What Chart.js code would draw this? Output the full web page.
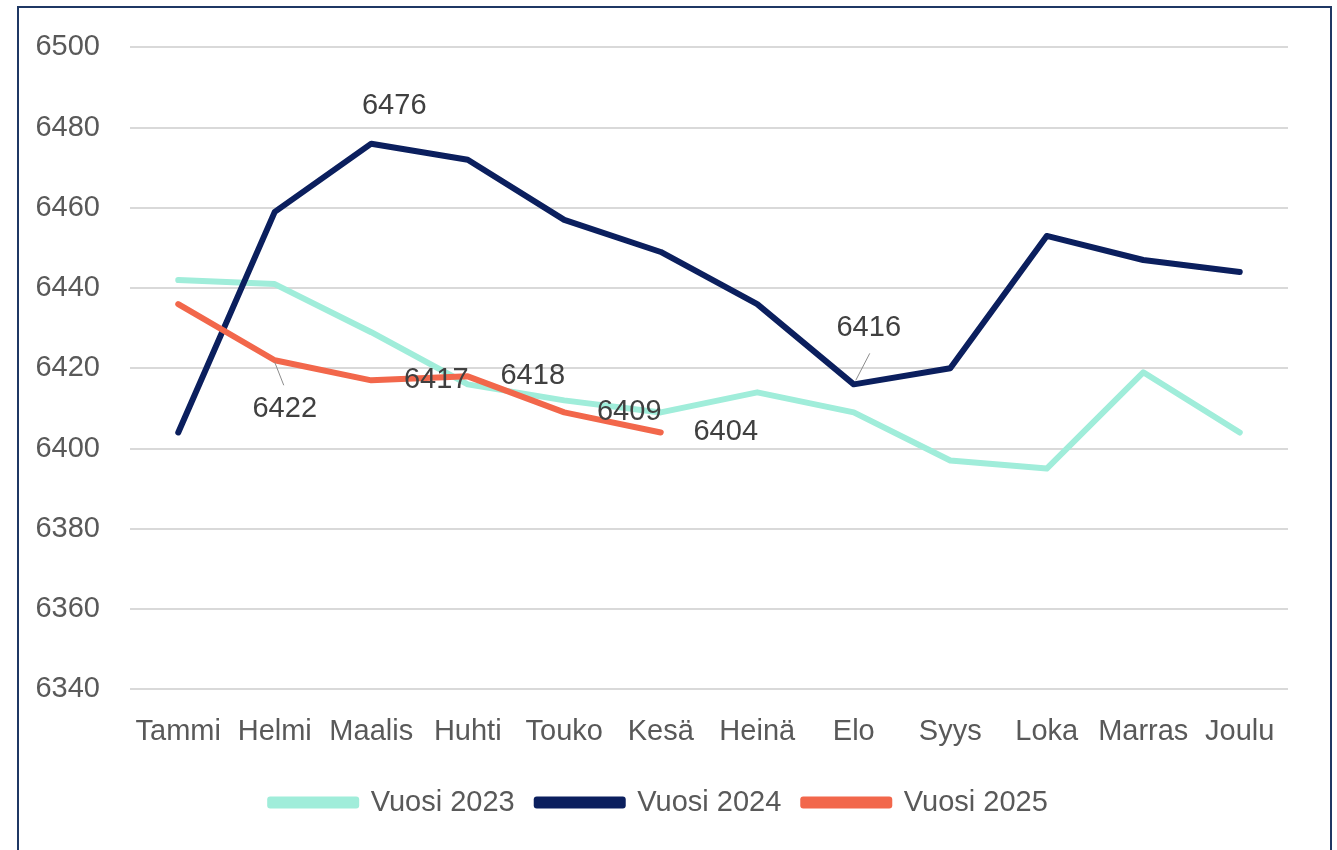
<!DOCTYPE html>
<html>
<head>
<meta charset="utf-8">
<script src="https://cdn.jsdelivr.net/npm/chart.js@4"></script>
<style>
  html, body { margin: 0; padding: 0; background: #fff; }
  #wrap { position: relative; width: 1337px; height: 850px; overflow: hidden; }
  #frame { position: absolute; left: 17px; top: 6px; width: 1311px; height: 900px; border: 2px solid #1F3864; }
  #chart { position: absolute; left: 0; top: 0; }
</style>
</head>
<body>
<div id="wrap">
  <div id="frame"></div>
  <canvas id="chart" width="1337" height="850"></canvas>
</div>
<script>
const months = ['Tammi', 'Helmi', 'Maalis', 'Huhti', 'Touko', 'Kesä', 'Heinä', 'Elo', 'Syys', 'Loka', 'Marras', 'Joulu'];
const vuosi2023 = [6442, 6441, 6429, 6416, 6412, 6409, 6414, 6409, 6397, 6395, 6419, 6404];
const vuosi2024 = [6404, 6459, 6476, 6472, 6457, 6449, 6436, 6416, 6420, 6453, 6447, 6444];
const vuosi2025 = [6436, 6422, 6417, 6418, 6409, 6404];
const seriesNames = ['Vuosi 2023', 'Vuosi 2024', 'Vuosi 2025'];
const seriesColors = ['#A0EDDA', '#0B1F5E', '#F2674B'];
const yTicks = [6340, 6360, 6380, 6400, 6420, 6440, 6460, 6480, 6500];

// which points carry a value label: [dataset, index, dx, dy, leader line or null]
const labelSpots = [
  [1, 2, 23, -38, null],
  [1, 7, 15, -56, [2, -4, 16, -31]],
  [2, 1, 10, 49, [0, 2, 9, 25]],
  [2, 2, 65, 0, null],
  [2, 3, 65, 0, null],
  [2, 4, 65, 0, null],
  [2, 5, 65, 0, null]
];

const FONT = "'Liberation Sans', Arial, sans-serif";

const valueLabels = {
  id: 'valueLabels',
  afterDatasetsDraw(chart) {
    const ctx = chart.ctx;
    ctx.save();
    ctx.font = '29px ' + FONT;
    ctx.fillStyle = '#404040';
    ctx.textAlign = 'center';
    ctx.textBaseline = 'middle';
    labelSpots.forEach(([ds, i, dx, dy, leader]) => {
      const pt = chart.getDatasetMeta(ds).data[i];
      const val = chart.data.datasets[ds].data[i];
      if (leader) {
        ctx.strokeStyle = '#8C8C8C';
        ctx.lineWidth = 1;
        ctx.beginPath();
        ctx.moveTo(pt.x + leader[0], pt.y + leader[1]);
        ctx.lineTo(pt.x + leader[2], pt.y + leader[3]);
        ctx.stroke();
      }
      ctx.fillText(String(val), pt.x + dx, pt.y + dy);
    });
    ctx.restore();
  }
};

const datasets = [vuosi2023, vuosi2024, vuosi2025].map((vals, k) => ({
  label: seriesNames[k],
  data: vals,
  borderColor: seriesColors[k],
  backgroundColor: seriesColors[k],
  borderWidth: 6,
  pointRadius: 0,
  tension: 0,
  borderJoinStyle: 'round',
  borderCapStyle: 'round',
  order: 2 - k
}));

new Chart(document.getElementById('chart'), {
  type: 'line',
  data: { labels: months, datasets: datasets },
  options: {
    responsive: false,
    animation: false,
    layout: { padding: { left: 30, right: 49, top: 46, bottom: 23 } },
    plugins: {
      tooltip: { enabled: false },
      legend: {
        position: 'bottom',
        labels: {
          boxWidth: 86,
          boxHeight: 6,
          padding: 22,
          color: '#595959',
          font: { family: FONT, size: 29 },
          generateLabels: (chart) => Chart.defaults.plugins.legend.labels.generateLabels(chart)
            .sort((a, b) => a.datasetIndex - b.datasetIndex)
        }
      }
    },
    scales: {
      x: {
        offset: true,
        grid: { display: false },
        border: { display: false },
        ticks: {
          color: '#595959',
          padding: 17,
          maxRotation: 0,
          autoSkip: false,
          font: { family: FONT, size: 29 }
        }
      },
      y: {
        min: 6340,
        max: 6500,
        afterFit: (scale) => { scale.width = 100; },
        afterBuildTicks: (scale) => { scale.ticks = yTicks.map(v => ({ value: v })); },
        border: { display: false },
        grid: { color: '#D9D9D9', lineWidth: 2, drawTicks: false },
        ticks: {
          color: '#595959',
          padding: 30,
          font: { family: FONT, size: 29 },
          callback: (v) => String(v)
        }
      }
    }
  },
  plugins: [valueLabels]
});
</script>
</body>
</html>
